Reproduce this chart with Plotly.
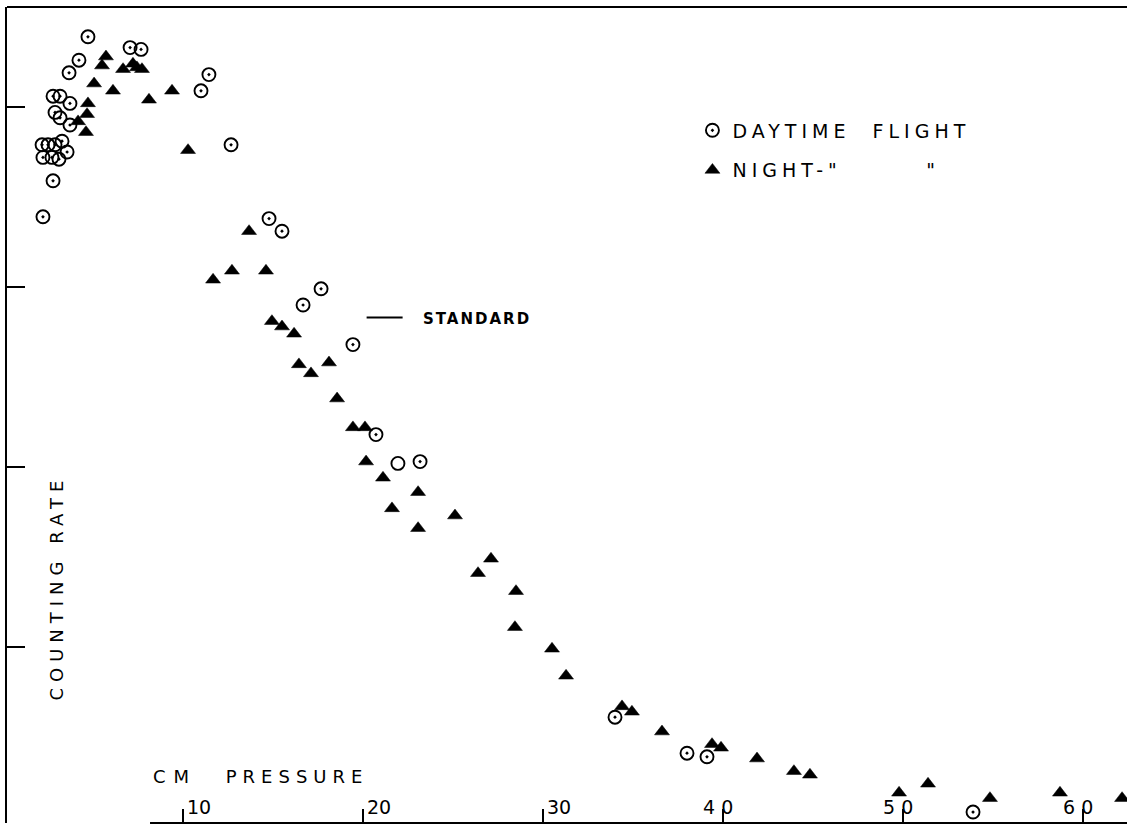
import plotly.graph_objects as go

# ---- data (pressure in cm, counting rate in arbitrary units) ----
DAY_P = [4.72, 4.22, 3.67, 7.06, 7.67, 11.44, 11.0, 2.78, 3.17, 3.72, 2.89, 3.17, 3.72,
         2.17, 2.5, 2.89, 3.28, 2.22, 2.72, 3.11, 3.56, 2.78, 2.22, 12.67, 14.78, 15.5,
         17.67, 16.67, 19.44, 20.72, 23.17, 34.0, 38.0, 39.11, 53.89]
DAY_RATE = [4.39, 4.26, 4.19, 4.33, 4.32, 4.18, 4.09, 4.06, 4.06, 4.02, 3.97, 3.94, 3.90,
            3.79, 3.79, 3.79, 3.81, 3.72, 3.72, 3.71, 3.75, 3.59, 3.39, 3.79, 3.38, 3.31,
            2.99, 2.90, 2.68, 2.18, 2.03, 0.61, 0.41, 0.39, 0.083]
DAY_OPEN_P = [21.94]
DAY_OPEN_RATE = [2.02]

NIGHT_P = [5.72, 5.5, 6.67, 7.22, 7.44, 7.72, 5.06, 6.11, 8.11, 9.39, 4.72, 4.67, 4.17,
           4.61, 10.28, 13.67, 11.67, 12.72, 14.61, 14.94, 15.5, 16.17, 16.44, 17.11,
           18.11, 18.56, 19.44, 20.11, 20.17, 21.11, 21.61, 23.06, 23.06, 25.11, 26.39,
           27.11, 28.5, 28.44, 30.5, 31.28, 34.39, 34.94, 36.61, 39.39, 39.89, 41.89,
           43.94, 44.83, 49.78, 51.39, 54.83, 58.72, 62.17]
NIGHT_RATE = [4.28, 4.23, 4.21, 4.24, 4.22, 4.21, 4.13, 4.09, 4.04, 4.09, 4.02, 3.96, 3.92,
              3.86, 3.76, 3.31, 3.04, 3.09, 3.09, 2.81, 2.78, 2.74, 2.57, 2.52, 2.58, 2.38,
              2.22, 2.22, 2.03, 1.94, 1.77, 1.86, 1.66, 1.73, 1.41, 1.49, 1.31, 1.11, 0.99,
              0.84, 0.67, 0.64, 0.53, 0.46, 0.44, 0.38, 0.31, 0.29, 0.19, 0.24, 0.16, 0.19,
              0.16]

X_TICKS = [10, 20, 30, 40, 50, 60]
X_TICK_TEXT = ["10", "20", "30", "4 0", "5 0", "6 0"]
Y_TICKS = [1, 2, 3, 4]

FONT = "DejaVu Sans"


def spaced(text, px):
    return '<span style="letter-spacing:%spx">%s</span>' % (px, text)


fig = go.Figure()
fig.add_trace(go.Scatter(
    x=DAY_P, y=DAY_RATE, mode="markers", name=spaced("DAYTIME\u00a0 FLIGHT", 5),
    legendgroup="d", cliponaxis=False,
    marker=dict(symbol="circle-open-dot", size=13, color="black",
                line=dict(width=1.9, color="black"))))
fig.add_trace(go.Scatter(
    x=DAY_OPEN_P, y=DAY_OPEN_RATE, mode="markers", showlegend=False,
    legendgroup="d", cliponaxis=False,
    marker=dict(symbol="circle-open", size=13, color="black",
                line=dict(width=1.9, color="black"))))
fig.add_trace(go.Scatter(
    x=NIGHT_P, y=NIGHT_RATE, mode="markers",
    name=spaced('NIGHT-"', 5) + "\u00a0" * 14 + '"',
    legendgroup="n", cliponaxis=False,
    marker=dict(symbol="triangle-up", size=13, color="black",
                line=dict(width=0.5, color="black"))))

annotations = []
for v, t in zip(X_TICKS, X_TICK_TEXT):
    if " " in t:
        annotations.append(dict(x=v, y=0.11, xref="x", yref="y", text=t, showarrow=False,
                                xanchor="center", xshift=-5,
                                font=dict(family=FONT, size=19, color="black")))
    else:
        annotations.append(dict(x=v, y=0.11, xref="x", yref="y", text=t, showarrow=False,
                                xanchor="left", xshift=2,
                                font=dict(family=FONT, size=19, color="black")))

annotations += [
    dict(x=8.2, y=0.28, xref="x", yref="y",
         text=spaced("CM", 8) + "\u00a0\u00a0\u00a0\u00a0\u00a0" + spaced("PRESSURE", 6),
         showarrow=False, xanchor="left",
         font=dict(family=FONT, size=18, color="black")),
    dict(x=3.0, y=1.33, xref="x", yref="y", text=spaced("COUNTING RATE", 6),
         textangle=-90, showarrow=False,
         font=dict(family=FONT, size=18, color="black")),
    dict(x=23.2, y=2.82, xref="x", yref="y", text="<b>" + spaced("STANDARD", 2) + "</b>",
         showarrow=False, xanchor="left",
         font=dict(family=FONT, size=15, color="black")),
]

shapes = [
    dict(type="line", xref="x", yref="y", x0=20.2, x1=22.2, y0=2.83, y1=2.83,
         line=dict(color="black", width=2)),
    dict(type="line", xref="paper", yref="paper", x0=0, x1=1, y0=1, y1=1,
         line=dict(color="black", width=2)),
    dict(type="line", xref="paper", yref="paper", x0=0.1277, x1=1, y0=0, y1=0,
         line=dict(color="black", width=2)),
]

fig.update_layout(
    width=1127, height=827,
    margin=dict(l=7, r=0, t=7, b=4),
    paper_bgcolor="white", plot_bgcolor="white",
    font=dict(family=FONT, color="black"),
    showlegend=True,
    legend=dict(x=0.612, y=0.872, xanchor="left", yanchor="top",
                font=dict(family=FONT, size=19, color="black"),
                bgcolor="rgba(0,0,0,0)", tracegroupgap=12,
                traceorder="grouped", itemsizing="trace"),
    annotations=annotations,
    shapes=shapes,
    xaxis=dict(range=[0.222, 62.444], showgrid=False, zeroline=False, showline=False,
               tickvals=X_TICKS, ticks="inside", ticklen=14, tickwidth=2,
               tickcolor="black", showticklabels=False),
    yaxis=dict(range=[4 / 180, 820 / 180], showgrid=False, zeroline=False,
               showline=True, linecolor="black", linewidth=2,
               tickvals=Y_TICKS, ticks="inside", ticklen=18, tickwidth=2,
               tickcolor="black", showticklabels=False),
)

fig.write_html("out.html",
               config={"displayModeBar": False},
               post_script="document.body.style.margin='0';"
                           "document.body.style.overflow='hidden';")
